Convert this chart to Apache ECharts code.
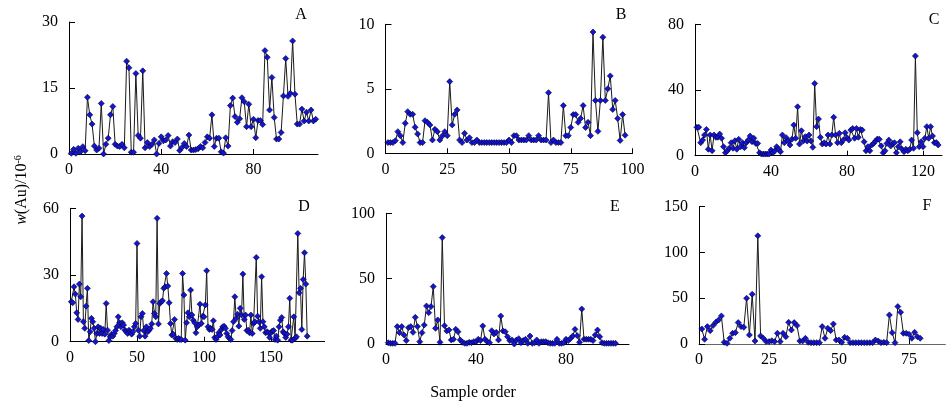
<!DOCTYPE html>
<html>
<head>
<meta charset="utf-8">
<script src="https://cdn.jsdelivr.net/npm/echarts@6/dist/echarts.min.js"></script>
<style>
html,body{margin:0;padding:0;background:#fff;}
#chart{width:947px;height:405px;}
</style>
</head>
<body>
<div id="chart"></div>
<script>
// ---- data ----
const panelLabels = ['A', 'B', 'C', 'D', 'E', 'F'];

const samplesA = [0.15,1.06,0.15,1.29,0.53,1.67,0.76,12.9,8.9,6.8,1.8,0.9,1.3,11.5,0,2.2,3.6,8.9,10.8,2.2,
  1.8,1.7,2.2,1.4,21.1,19.6,0.4,0.4,18.3,4.2,3.6,18.9,1.4,2.6,1.7,2.2,3.2,0,2.4,3.9,
  3.0,3.2,4.2,1.8,2.8,2.6,3.4,0.8,1.5,2.4,1.7,4.3,
  0.9,0.9,1.0,1.2,1.7,1.4,2.6,3.9,3.6,8.9,1.7,3.6,3.6,0.5,0.2,3.7,1.8,11.0,12.7,8.5,
  7.2,8.0,12.8,11.9,6.2,11.3,6.2,7.9,3.7,7.6,7.6,6.7,23.5,22.0,10.0,17.4,8.3,3.4,3.4,4.9,
  13.2,21.7,13.1,13.8,25.7,13.6,6.8,6.8,10.2,7.5,9.5,7.5,10.0,7.5,7.9];

const samplesB = [0.83,0.83,0.83,0.98,1.68,1.37,0.83,2.33,3.23,3.02,3.02,2.02,1.5,0.83,0.83,2.53,2.4,2.2,1.03,1.86,
  1.68,1.03,1.34,1.68,1.37,5.56,2.2,3.02,3.36,1.03,0.83,1.55,1.03,1.21,0.83,0.83,1.03,
  0.83,0.83,0.83,0.83,0.83,0.83,0.83,0.83,0.83,0.83,0.83,0.83,
  1.03,0.83,1.37,1.37,1.03,1.03,1.03,1.03,1.37,1.03,1.03,1.03,1.37,1.03,1.03,1.03,4.7,0.83,1.03,0.83,
  0.83,0.83,3.7,1.37,1.37,2.0,3.0,3.0,2.4,2.7,3.7,2.0,2.4,1.37,9.4,4.1,1.7,4.1,9.0,4.1,
  5.0,6.0,3.4,4.1,2.7,1.0,3.0,1.4];

const samplesC = [17.3,17.3,7.9,9.5,12.6,16.0,3.9,12.6,3.0,12.6,11.2,11.2,13.2,10.6,5.5,1.8,3.0,4.5,7.9,4.5,
  9.1,3.9,10.0,5.5,7.9,4.9,7.9,9.5,12.0,8.5,10.6,7.5,7.5,1.8,1.0,1.0,1.0,1.0,1.0,3.5,
  1.8,3.0,5.5,3.9,2.4,12.6,7.9,11.0,9.0,6.5,10.0,18.7,10.6,
  29.8,7.1,15.2,8.9,11.6,8.9,12.6,9.0,5.1,44,17.7,22.3,11.2,7.1,7.9,7.1,12.6,7.1,12.6,23.4,
  12.6,7.9,13.6,7.9,9.5,14.0,11.0,9.5,15.6,16.6,10.6,16.6,11.2,16.0,15.6,8.5,3.0,5.5,3.0,6.5,
  7.5,8.9,10.2,10.0,6.0,1.8,3.0,7.5,9.5,5.9,7.5,7.9,1.8,5.5,8.5,3.9,2.4,3.9,3.0,3.9,
  9.5,4.5,60.7,14.0,5.5,8.5,5.5,10.6,17.7,10.6,17.7,12.0,7.9,8.0,6.5];

const samplesD = [18.0,17.5,24.7,21.4,13.0,10.0,25.9,20.2,56.5,9.0,6.0,16.0,24.0,0.5,4.5,10.5,9.0,6.0,0,3.7,
  6.7,3.7,6.0,3.7,5.5,3.4,17.2,5.2,0.5,2.2,3.4,2.5,3.7,5.0,6.7,11.2,8.5,6.7,8.5,7.5,
  5.2,4.5,3.7,5.2,4.5,3.4,4.5,6.7,8.2,44.2,5.2,2.5,11.2,12.7,5.0,2.5,6.7,4.5,5.2,6.0,
  8.0,18.0,12.7,11.2,55.5,8.0,17.2,18.0,18.4,24.0,24.7,30.7,25.0,17.5,8.2,3.0,3.4,10.0,1.5,1.0,
  1.5,1.0,1.0,30.7,21.0,0.7,8.5,13.0,11.2,23.2,
  12.0,9.7,8.5,4.0,6.7,7.5,16.9,8.2,11.5,11.2,16.5,31.9,6.7,5.5,6.0,5.5,9.4,1.9,1.0,2.2,
  4.0,3.0,5.5,6.7,7.0,6.0,3.7,2.2,1.5,1.0,5.0,9.0,20.2,10.5,12.4,7.0,15.0,12.0,30.4,10.0,
  12.0,5.0,5.2,4.0,12.0,3.7,8.2,9.0,37.9,11.5,9.0,6.0,29.2,9.0,6.7,4.0,4.5,4.0,1.9,4.0,
  4.8,5.0,1.0,2.5,0.7,6.7,9.7,10.9,4.5,3.7,1.9,3.4,6.7,19.5,0.7,0.7,11.2,1.5,2.2,48.7,
  22.0,24.0,5.5,28.0,40.0,25.9,2.5];

const samplesE = [1.0,0.5,0.5,0.5,13.3,8.7,13.3,6.9,2.6,12.5,13.3,8.9,20.4,13.3,1.8,8.7,14.5,29.1,24.0,28.6,
  43.9,12.0,18.4,1.3,81.4,14.0,10.0,10.7,3.1,3.6,11.2,9.4,3.1,1.3,0.5,0.5,1.3,1.0,1.8,1.8,
  3.6,2.6,13.8,
  3.6,1.8,1.0,10.2,7.7,8.9,3.1,21.4,10.0,9.4,5.6,2.6,3.1,0,3.1,4.1,1.0,2.6,3.6,0.5,
  6.1,0.5,1.0,3.1,0.5,1.8,1.8,1.8,1.0,0.5,0.5,0.5,3.6,0.5,0.5,1.0,3.6,2.6,4.3,6.1,
  11.2,6.4,1.3,26.8,3.6,3.6,3.6,3.6,2.6,6.9,10.7,5.6,1.0,0.5,0.5,0.5,0.5,0.5,0.5];

const samplesF = [16.4,5.1,19.0,14.6,20.1,23.7,26.3,30.7,1.8,0.7,6.2,11.7,12.4,23.4,19.0,18.2,50.0,9.9,54.4,3.3,
  118.2,8.8,6.2,2.6,2.6,3.6,2.6,11.7,2.6,11.7,8.0,23.7,15.3,23.4,20.1,
  3.3,3.3,6.2,1.8,1.5,1.5,1.5,1.5,19.0,6.2,17.2,14.6,21.9,4.4,4.4,1.8,7.3,6.2,
  1.5,1.5,1.5,1.5,1.5,1.5,1.5,1.5,1.5,4.4,3.3,1.5,1.8,1.5,31.8,12.4,1.5,40.9,34.7,11.7,
  11.7,10.6,6.2,12.8,8.0,6.2];

// tick values
const xTicksA = [0, 40, 80],           yTicksA = [0, 15, 30];
const xTicksB = [0, 25, 50, 75, 100],  yTicksB = [0, 5, 10];
const xTicksC = [0, 40, 80, 120],      yTicksC = [0, 40, 80];
const xTicksD = [0, 50, 100, 150],     yTicksD = [0, 30, 60];
const xTicksE = [0, 40, 80],           yTicksE = [0, 50, 100];
const xTicksF = [0, 25, 50, 75],       yTicksF = [0, 50, 100, 150];

const xAxisMax = [108, 100, 130, 190, 108, 88];

const yTitle = '(Au)/10';
const xTitle = 'Sample order';

// ---- layout ----
const grids = [
  {left: 69,   top: 22,    width: 249,   height: 132},
  {left: 385.5,top: 24.3,  width: 247,   height: 129},
  {left: 695,  top: 24.3,  width: 247,   height: 131.4},
  {left: 70,   top: 208.3, width: 254.6, height: 133.4},
  {left: 386,  top: 213.3, width: 243,   height: 130.7},
  {left: 699,  top: 206.7, width: 246.4, height: 137.3}
];
const letterPos = [[301,15],[621,15],[934,20],[304,207],[615,207],[927,206]];

const FONT = '"Liberation Serif", "Times New Roman", serif';
const allSamples = [samplesA, samplesB, samplesC, samplesD, samplesE, samplesF];
const allX = [xTicksA, xTicksB, xTicksC, xTicksD, xTicksE, xTicksF];
const allY = [yTicksA, yTicksB, yTicksC, yTicksD, yTicksE, yTicksF];

const xAxes = [], yAxes = [], series = [];
allSamples.forEach((arr, i) => {
  const xt = allX[i], yt = allY[i];
  const axColor = i === 5 ? '#666' : '#000';
  xAxes.push({
    type: 'value', gridIndex: i, min: 0, max: xAxisMax[i],
    interval: xt[1] - xt[0],
    axisLine: {show: true, onZero: false, lineStyle: {color: axColor, width: 1}},
    axisTick: {show: true, inside: true, length: 5, customValues: xt, lineStyle: {color: '#000'}},
    axisLabel: {customValues: xt, fontSize: 16, fontFamily: FONT, color: '#000', margin: 8},
    splitLine: {show: false}
  });
  yAxes.push({
    type: 'value', gridIndex: i, min: 0, max: yt[yt.length - 1],
    interval: yt[1] - yt[0],
    axisLine: {show: true, onZero: false, lineStyle: {color: '#000', width: 1}},
    axisTick: {show: true, inside: true, length: 6, lineStyle: {color: '#000'}},
    axisLabel: {fontSize: 16, fontFamily: FONT, color: '#000', margin: 11},
    splitLine: {show: false}
  });
  series.push({
    type: 'line', xAxisIndex: i, yAxisIndex: i,
    data: arr.map((v, k) => [k + 1, v]),
    symbol: 'diamond', symbolSize: 6, showAllSymbol: true,
    lineStyle: {color: '#1a1a1a', width: 1},
    itemStyle: {color: '#1414d4', borderColor: '#000022', borderWidth: 0.6},
    animation: false, silent: true
  });
});

const graphics = panelLabels.map((t, i) => ({
  type: 'text', x: letterPos[i][0], y: letterPos[i][1],
  style: {text: t, font: '16px ' + FONT, fill: '#000', align: 'center', verticalAlign: 'middle'}
}));
graphics.push({
  type: 'text', x: 473, y: 393,
  style: {text: xTitle, font: '16px ' + FONT, fill: '#000', align: 'center', verticalAlign: 'middle'}
});
graphics.push({
  type: 'text', x: 22, y: 190, rotation: Math.PI / 2,
  style: {
    text: '{i|w}' + yTitle + '{s|-6}',
    font: '16px ' + FONT, fill: '#000', align: 'center', verticalAlign: 'middle',
    rich: {
      i: {fontStyle: 'italic', fontSize: 16, fontFamily: FONT},
      s: {fontSize: 10, fontFamily: FONT, padding: [0, 0, 8, 0]}
    }
  }
});

const chart = echarts.init(document.getElementById('chart'), null, {renderer: 'canvas'});
chart.setOption({
  backgroundColor: '#fff',
  animation: false,
  grid: grids.map(g => Object.assign({containLabel: false}, g)),
  xAxis: xAxes,
  yAxis: yAxes,
  series: series,
  graphic: graphics
});
</script>
</body>
</html>
